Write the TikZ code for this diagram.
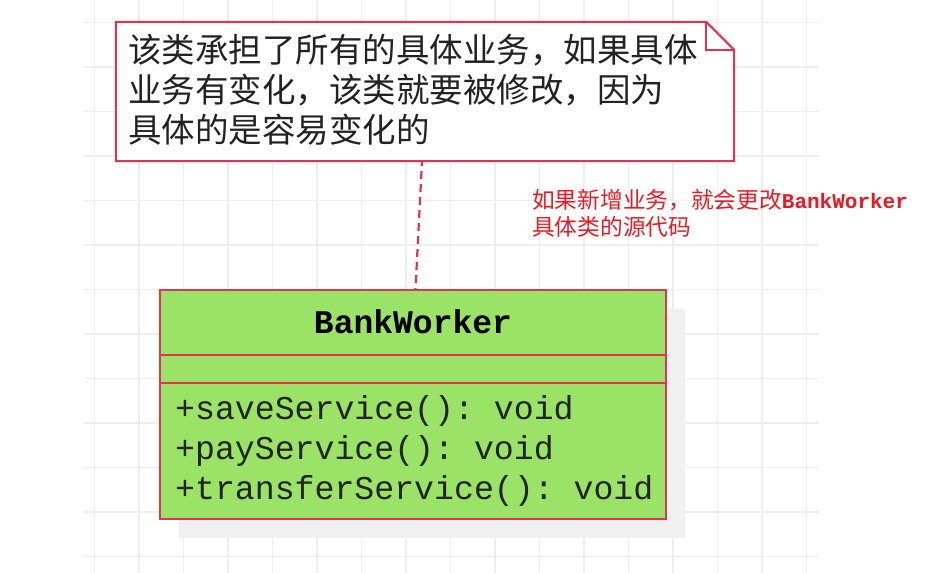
\documentclass[tikz,border=0pt]{standalone}
\usepackage{fontspec}
\setmainfont{Liberation Sans}
\setmonofont{Liberation Mono}
\newfontfamily\cjk{Noto Sans CJK SC}
\usetikzlibrary{shadows}
\definecolor{gridc}{RGB}{238,238,238}
\definecolor{redline}{RGB}{224,52,82}
\definecolor{classfill}{RGB}{155,227,102}
\definecolor{shadowc}{RGB}{240,240,240}
\definecolor{notetext}{RGB}{34,34,34}
\definecolor{annot}{RGB}{232,27,36}
\tikzset{
 gridline/.style={gridc, line width=1.5pt},
 notebox/.style={draw=none, minimum width=618pt, minimum height=139pt, inner sep=0pt},
 noteline/.style={draw=redline, line width=2pt, line join=miter},
 classbox/.style={draw=redline, fill=classfill, line width=2pt, minimum width=506pt, minimum height=229pt, inner sep=0pt,
   drop shadow={shadow xshift=19pt, shadow yshift=-19pt, fill=shadowc, opacity=1}},
 sepline/.style={draw=redline, line width=2pt},
 linkline/.style={draw=redline, line width=2.2pt, dash pattern=on 8pt off 5pt, dash phase=3pt},
 notetxt/.style={font=\cjk\fontsize{33.5}{40}\selectfont, text=notetext, align=left, inner sep=0pt, anchor=west},
 titletxt/.style={font=\ttfamily\bfseries\fontsize{33}{40}\selectfont, text=black, inner sep=0pt},
 methtxt/.style={font=\ttfamily\fontsize{33.2}{40}\selectfont, text=notetext, align=left, inner sep=0pt, anchor=west},
 annottxt/.style={font=\fontsize{22.7}{27}\selectfont, text=annot, align=left, inner sep=0pt, anchor=west},
}
\begin{document}
\begin{tikzpicture}[x=1pt,y=-1pt]
\useasboundingbox (0,0) rectangle (943,573);
% grid
\begin{scope}
\clip (84,0) rectangle (819,573);
\foreach \i in {0,...,16} \draw[gridline] (94.3+44.5*\i,0) -- (94.3+44.5*\i,573);
\foreach \j in {0,...,12} \draw[gridline] (84,22.7+44.5*\j) -- (819,22.7+44.5*\j);
\end{scope}
% class box
\node[classbox] (cls) at (413,404.5) {};
\draw[sepline] ([yshift=-66pt]cls.north west) -- ([yshift=-66pt]cls.north east);
\draw[sepline] ([yshift=-94pt]cls.north west) -- ([yshift=-94pt]cls.north east);
\node[titletxt] (title) at (413,322) {BankWorker};
\node[methtxt] (methods) at (175,451) {+saveService(): void\\+payService(): void\\+transferService(): void};
% note
\node[notebox] (note) at (425,91.5) {};
\draw[noteline, fill=white] (note.north west) -- ([xshift=-28pt]note.north east) -- ([yshift=-28pt]note.north east) -- (note.south east) -- (note.south west) -- cycle;
\draw[noteline] ([xshift=-28pt]note.north east) -- ([xshift=-28pt,yshift=-28pt]note.north east) -- ([yshift=-28pt]note.north east);
\node[notetxt] (notetext) at (128,90) {该类承担了所有的具体业务，如果具体\\业务有变化，该类就要被修改，因为\\具体的是容易变化的};
% link
\draw[linkline] ([xshift=-3pt]note.south) -- ([xshift=2.5pt]cls.north);
% annotation
\node[annottxt] (annot) at (532,213.5) {{\cjk 如果新增业务，就会更改}{\ttfamily\bfseries\fontsize{21}{27}\selectfont BankWorker}\\{\cjk 具体类的源代码}};
\end{tikzpicture}
\end{document}
